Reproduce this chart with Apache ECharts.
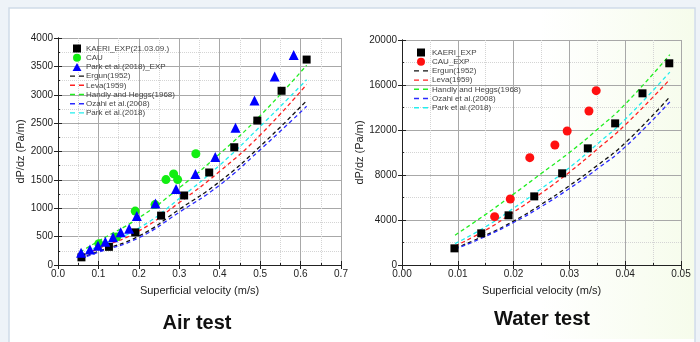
<!DOCTYPE html>
<html>
<head>
<meta charset="utf-8">
<script src="https://cdn.jsdelivr.net/npm/echarts@6/dist/echarts.min.js"></script>
<style>
  html, body { margin: 0; padding: 0; background: #eef3f8; }
  #chart { width: 700px; height: 342px; }
</style>
</head>
<body>
<div id="chart"></div>
<script>
// ---- Air test ----
const airKaeriX = [0.058, 0.126, 0.191, 0.255, 0.312, 0.374, 0.436, 0.493, 0.553, 0.615]
const airKaeriY = [135, 320, 575, 870, 1225, 1630, 2075, 2545, 3070, 3620]
const airCauX = [0.101, 0.145, 0.191, 0.240, 0.267, 0.286, 0.296, 0.341]
const airCauY = [375, 495, 950, 1065, 1505, 1605, 1505, 1960]
const airParkX = [0.057, 0.079, 0.099, 0.117, 0.136, 0.155, 0.176, 0.195, 0.241, 0.292, 0.340, 0.389, 0.439, 0.486, 0.536, 0.583]
const airParkY = [215, 275, 340, 410, 490, 575, 640, 865, 1085, 1340, 1605, 1905, 2420, 2900, 3320, 3700]
const airLineX = [0.055, 0.1, 0.2, 0.3, 0.4, 0.5, 0.615]
const airErgun = [120, 240, 510, 980, 1470, 2090, 2895]
const airLeva = [150, 290, 600, 1100, 1650, 2290, 3180]
const airHandly = [230, 420, 830, 1360, 1960, 2630, 3520]
const airOzahi = [110, 225, 480, 930, 1410, 2030, 2796]
const airPark = [180, 330, 650, 1170, 1760, 2440, 3265]

// ---- Water test ----
const wKaeriX = [0.0094, 0.0142, 0.0191, 0.0237, 0.0287, 0.0333, 0.0382, 0.0431, 0.0479]
const wKaeriY = [1480, 2815, 4415, 6100, 8150, 10370, 12590, 15260, 17930]
const wCauX = [0.0166, 0.0194, 0.0229, 0.0274, 0.0296, 0.0335, 0.0348]
const wCauY = [4300, 5870, 9540, 10670, 11910, 13690, 15500]
const wLineX = [0.0095, 0.015, 0.02, 0.025, 0.03, 0.035, 0.04, 0.048]
const wErgun = [1480, 2650, 3900, 5400, 7050, 8850, 10850, 14950]
const wLeva = [1690, 3100, 4700, 6400, 8250, 10300, 12450, 16500]
const wHandly = [2650, 4500, 6300, 8150, 10000, 12050, 14300, 18700]
const wOzahi = [1400, 2550, 3780, 5200, 6800, 8550, 10500, 14500]
const wPark = [1900, 3400, 5050, 6800, 8650, 10750, 12950, 17150]

const zip = (xs, ys) => xs.map((x, i) => [x, ys[i]])

const chart = echarts.init(document.getElementById('chart'))

const axisText = { color: '#222', fontSize: 10, fontFamily: 'Liberation Sans' }
const nameText = { color: '#222', fontSize: 11, fontFamily: 'Liberation Sans' }
const frameLine = { lineStyle: { color: '#222', width: 1 } }
const majorGrid = { show: true, lineStyle: { color: '#a8a8a8', width: 1 } }
const minorGrid = { show: true, lineStyle: { color: '#d4d4d4', width: 1, type: 'dotted' } }

function xAxes(gridIndex, max, interval, digits) {
  return [
    {
      type: 'value', gridIndex, min: 0, max, interval,
      name: 'Superficial velocity (m/s)', nameLocation: 'middle', nameGap: 20, nameTextStyle: nameText,
      axisLine: frameLine, axisTick: { inside: true, length: 4, lineStyle: { color: '#222' } },
      minorTick: { show: true, splitNumber: 2, length: 2, lineStyle: { color: '#222' } },
      axisLabel: { ...axisText, margin: 4, formatter: v => v.toFixed(digits) },
      splitLine: majorGrid, minorSplitLine: minorGrid
    },
    {
      type: 'value', gridIndex, min: 0, max, interval, position: 'top',
      axisLine: frameLine, axisTick: { inside: true, length: 4, lineStyle: { color: '#222' } },
      axisLabel: { show: false }, splitLine: { show: false }
    }
  ]
}

function yAxes(gridIndex, max, interval, gap) {
  return [
    {
      type: 'value', gridIndex, min: 0, max, interval,
      name: 'dP/dz (Pa/m)', nameLocation: 'middle', nameGap: gap, nameTextStyle: nameText,
      axisLine: frameLine, axisTick: { inside: true, length: 4, lineStyle: { color: '#222' } },
      minorTick: { show: true, splitNumber: 2, length: 2, lineStyle: { color: '#222' } },
      axisLabel: { ...axisText, margin: 5, formatter: v => String(v) },
      splitLine: majorGrid, minorSplitLine: minorGrid
    },
    {
      type: 'value', gridIndex, min: 0, max, interval, position: 'right',
      axisLine: frameLine, axisTick: { inside: true, length: 4, lineStyle: { color: '#222' } },
      axisLabel: { show: false }, splitLine: { show: false }
    }
  ]
}

function scatter(name, xi, yi, data, symbol, size, color) {
  return { name, type: 'scatter', xAxisIndex: xi, yAxisIndex: yi, data, symbol, symbolSize: size,
    itemStyle: { color, opacity: 1 }, z: 5 }
}
function dashed(name, xi, yi, data, color) {
  return { name, type: 'line', xAxisIndex: xi, yAxisIndex: yi, data, smooth: true, symbol: 'none',
    lineStyle: { color, width: 1.3, type: [4, 3] }, itemStyle: { color }, z: 3 }
}

// legend icons
const icoSquare = 'path://M0,0H10V10H0Z'
const icoCircle = 'path://M5,0A5,5,0,1,1,5,10A5,5,0,1,1,5,0Z'
const icoTriangle = 'path://M5,0L10,9L0,9Z'
const icoDash = 'path://M0,0H5V1.4H0Z M9,0H14V1.4H9Z'

const legendBase = {
  orient: 'vertical', itemWidth: 14, itemHeight: 8, itemGap: 1.2, padding: 0, symbolKeepAspect: true,
  textStyle: { fontSize: 8, lineHeight: 8, color: '#444', fontFamily: 'Liberation Sans' },
  selectedMode: false
}
const item = (name, icon) => ({ name, icon })

const option = {
  animation: false,
  backgroundColor: '#eef3f8',
  graphic: [
    { type: 'rect', shape: { x: 9, y: 8, width: 686, height: 340 }, style: { fill: '#ffffff', stroke: '#cfdbe7', lineWidth: 1.5 }, z: -10 },
    { type: 'rect', shape: { x: 540, y: 9, width: 154, height: 330 },
      style: { fill: new echarts.graphic.LinearGradient(0, 0, 1, 0, [
        { offset: 0, color: 'rgba(240,250,225,0)' }, { offset: 1, color: 'rgba(240,250,222,0.6)' }]) }, z: -9 }
  ],
  title: [
    { text: 'Air test', left: 192, top: 308, textAlign: 'center',
      textStyle: { fontSize: 20, fontWeight: 'bold', color: '#111', fontFamily: 'Liberation Sans' } },
    { text: 'Water test', left: 537, top: 304, textAlign: 'center',
      textStyle: { fontSize: 20, fontWeight: 'bold', color: '#111', fontFamily: 'Liberation Sans' } }
  ],
  legend: [
    { ...legendBase, left: 70, top: 44.5, textStyle: { ...legendBase.textStyle, padding: [0, 0, 0, -3] },
      data: [item('KAERI_EXP(21.03.09.)', icoSquare), item('CAU', icoCircle), item('Park et al.(2018)_EXP', icoTriangle),
        item('Ergun(1952)', icoDash), item('Leva(1959)', icoDash), item('Handly and Heggs(1968)', icoDash),
        item('Ozahi et al.(2008)', icoDash), item('Park et al.(2018)', icoDash)] },
    { ...legendBase, left: 414, top: 48.5, textStyle: { ...legendBase.textStyle, padding: [0, 0, 0, -1] },
      data: [item('KAERI_EXP', icoSquare), item('CAU_EXP', icoCircle),
        item('Ergun(1952) ', icoDash), item('Leva(1959) ', icoDash), item('Handly and Heggs(1968) ', icoDash),
        item('Ozahi et al.(2008) ', icoDash), item('Park et al.(2018) ', icoDash)] }
  ],
  grid: [
    { left: 58, right: 359, top: 38, bottom: 77 },
    { left: 402, right: 19, top: 40, bottom: 77 }
  ],
  xAxis: [...xAxes(0, 0.7, 0.1, 1), ...xAxes(1, 0.05, 0.01, 2)],
  yAxis: [...yAxes(0, 4000, 500, 29), ...yAxes(1, 20000, 4000, 33)],
  series: [
    dashed('Ergun(1952)', 0, 0, zip(airLineX, airErgun), '#111111'),
    dashed('Leva(1959)', 0, 0, zip(airLineX, airLeva), '#ff2020'),
    dashed('Handly and Heggs(1968)', 0, 0, zip(airLineX, airHandly), '#22ee22'),
    dashed('Ozahi et al.(2008)', 0, 0, zip(airLineX, airOzahi), '#2a2aff'),
    dashed('Park et al.(2018)', 0, 0, zip(airLineX, airPark), '#22eeee'),
    scatter('KAERI_EXP(21.03.09.)', 0, 0, zip(airKaeriX, airKaeriY), 'rect', 8, '#000000'),
    scatter('CAU', 0, 0, zip(airCauX, airCauY), 'circle', 9, '#11ee11'),
    scatter('Park et al.(2018)_EXP', 0, 0, zip(airParkX, airParkY), 'triangle', 10, '#0000ff'),

    dashed('Ergun(1952) ', 2, 2, zip(wLineX, wErgun), '#111111'),
    dashed('Leva(1959) ', 2, 2, zip(wLineX, wLeva), '#ff2020'),
    dashed('Handly and Heggs(1968) ', 2, 2, zip(wLineX, wHandly), '#22ee22'),
    dashed('Ozahi et al.(2008) ', 2, 2, zip(wLineX, wOzahi), '#2a2aff'),
    dashed('Park et al.(2018) ', 2, 2, zip(wLineX, wPark), '#22eeee'),
    scatter('KAERI_EXP', 2, 2, zip(wKaeriX, wKaeriY), 'rect', 8, '#000000'),
    scatter('CAU_EXP', 2, 2, zip(wCauX, wCauY), 'circle', 9, '#ff1010')
  ]
}

chart.setOption(option)
</script>
</body>
</html>
